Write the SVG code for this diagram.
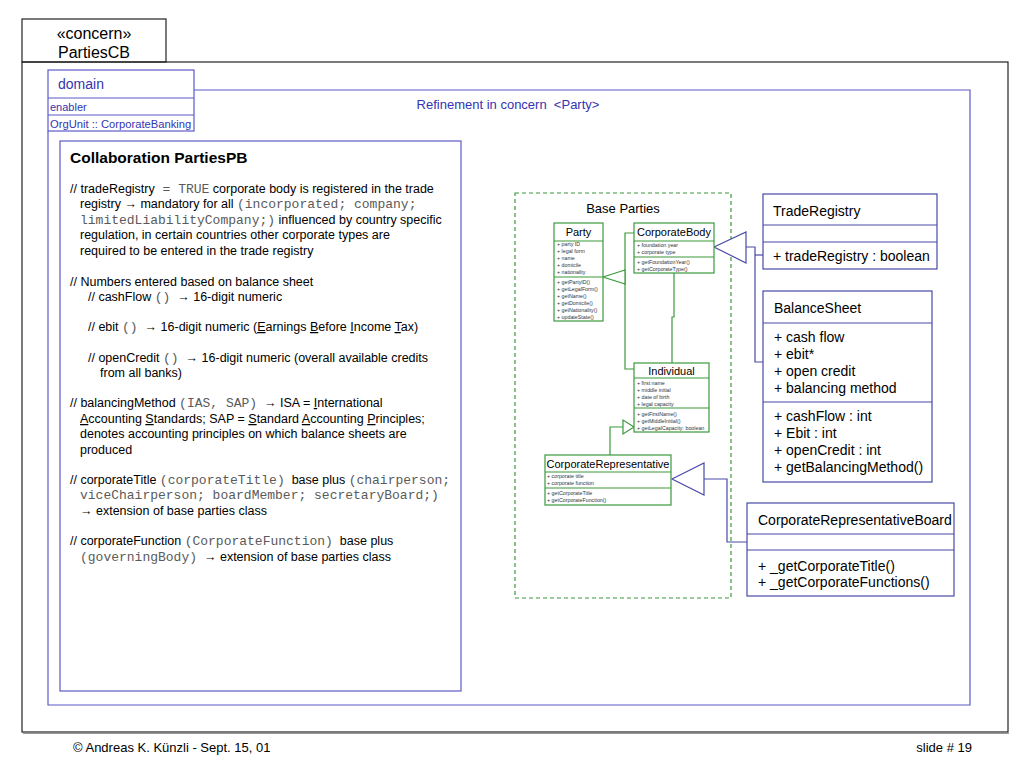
<svg xmlns="http://www.w3.org/2000/svg" width="1024" height="768" viewBox="0 0 1024 768">
<style>
.frame{fill:none;stroke:#222;stroke-width:1.2}
.bframe{fill:none;stroke:#5a5ac8;stroke-width:1.2}
.cls{fill:#fff;stroke:#4a4aa8;stroke-width:1.2}
.bl{fill:none;stroke:#4a4aa8;stroke-width:1.2}
.btri{fill:#fff;stroke:#4a4aa8;stroke-width:1.2}
.g{fill:#fff;stroke:#3a9a3a;stroke-width:1.2}
.gl{fill:none;stroke:#3a9a3a;stroke-width:1.2}
.gdash{fill:none;stroke:#3a9a3a;stroke-width:1.2;stroke-dasharray:4 3}
text{font-family:"Liberation Sans",Arial,sans-serif;fill:#000;white-space:pre}
.body{font-size:12.5px}
.m{font-family:"Liberation Mono","Courier New",monospace;font-size:13px;fill:#5a5a5a}
.u{text-decoration:underline}
.bt{fill:#3434b0}
.c14{font-size:14px}
.c11{font-size:11px}
.tiny{font-size:5.3px;fill:#333}
</style>

<g id="frame">
<rect class="frame" x="22" y="62" width="986" height="670"/>
<line x1="23" y1="733.5" x2="1009" y2="733.5" stroke="#999" stroke-width="1"/>
</g>

<g id="concern-tab">
<rect class="frame" x="22" y="19" width="144" height="43" fill="#fff"/>
<text x="94" y="39" font-size="16" text-anchor="middle">«concern»</text>
<text x="94" y="58" font-size="16" text-anchor="middle">PartiesCB</text>
</g>

<g id="domain-frame">
<polyline class="bframe" points="194,90 970,90 970,705 48,705 48,131"/>
<text class="bt" x="508" y="109" font-size="13" text-anchor="middle">Refinement in concern  &lt;Party&gt;</text>
</g>

<g id="domain">
<rect class="bframe" x="48" y="70" width="146" height="61" fill="#fff"/>
<line class="bframe" x1="48" y1="98" x2="194" y2="98"/>
<line class="bframe" x1="48" y1="115" x2="194" y2="115"/>
<text class="bt" x="58" y="89" font-size="14">domain</text>
<text class="bt" x="50" y="111" font-size="11">enabler</text>
<text class="bt" x="50" y="128" font-size="11.2">OrgUnit :: CorporateBanking</text>
</g>

<g id="collaboration">
<rect class="bframe" x="60" y="141" width="401" height="550" fill="#fff" stroke="#4a4aa8"/>
<text x="70" y="163" font-size="15.5" font-weight="bold">Collaboration PartiesPB</text>
<g class="body">
<text class="body" x="70" y="193">// tradeRegistry<tspan class="m"> = TRUE</tspan> corporate body is registered in the trade</text>
<text class="body" x="80" y="208">registry → mandatory for all <tspan class="m">(incorporated; company;</tspan></text>
<text class="body" x="80" y="224"><tspan class="m">limitedLiabilityCompany;)</tspan> influenced by country specific</text>
<text class="body" x="80" y="239">regulation, in certain countries other corporate types are</text>
<text class="body" x="80" y="255">required to be entered in the trade registry</text>
<text class="body" x="70" y="286">// Numbers entered based on balance sheet</text>
<text class="body" x="88" y="301">// cashFlow <tspan class="m">()</tspan>  → 16-digit numeric</text>
<text class="body" x="88" y="331">// ebit <tspan class="m">()</tspan>  → 16-digit numeric (<tspan class="u">E</tspan>arnings <tspan class="u">B</tspan>efore <tspan class="u">I</tspan>ncome <tspan class="u">T</tspan>ax)</text>
<text class="body" x="88" y="362">// openCredit <tspan class="m">()</tspan>  → 16-digit numeric (overall available credits</text>
<text class="body" x="100" y="377">from all banks)</text>
<text class="body" x="70" y="407">// balancingMethod <tspan class="m">(IAS, SAP)</tspan>  → ISA = <tspan class="u">I</tspan>nternational</text>
<text class="body" x="80" y="423"><tspan class="u">A</tspan>ccounting <tspan class="u">S</tspan>tandards; SAP = <tspan class="u">S</tspan>tandard <tspan class="u">A</tspan>ccounting <tspan class="u">P</tspan>rinciples;</text>
<text class="body" x="80" y="438">denotes accounting principles on which balance sheets are</text>
<text class="body" x="80" y="454">produced</text>
<text class="body" x="70" y="484">// corporateTitle <tspan class="m">(corporateTitle)</tspan>  base plus <tspan class="m">(chairperson;</tspan></text>
<text class="body" x="80" y="499"><tspan class="m">viceChairperson; boardMember; secretaryBoard;)</tspan></text>
<text class="body" x="80" y="515">→ extension of base parties class</text>
<text class="body" x="70" y="545">// corporateFunction <tspan class="m">(CorporateFunction)</tspan>  base plus</text>
<text class="body" x="80" y="561"><tspan class="m">(governingBody)</tspan>  → extension of base parties class</text>
</g>
</g>

<g id="base-parties">
<rect class="gdash" x="515" y="193" width="216" height="405"/>
<text x="623" y="213" font-size="13" text-anchor="middle">Base Parties</text>
</g>

<g id="connectors">
<polyline class="gl" points="634,233 625,233 625,369 634,369"/>
<polygon class="g" points="603,277 625,270 625,284"/>
<polyline class="gl" points="674,273 674,317 672,317 672,363"/>
<polyline class="gl" points="623,427 610,427 610,455"/>
<polygon class="g" points="634,427 623,420 623,434"/>
<polyline class="bl" points="746,247 755,247 755,362 763,362"/>
<line class="bl" x1="755" y1="255" x2="763" y2="255"/>
<polygon class="btri" points="714,247 746,232 746,263"/>
<polyline class="bl" points="704,479 727,479 727,542 747,542"/>
<polygon class="btri" points="672,479 704,463 704,495"/>
</g>

<g id="party">
<rect class="g" x="554" y="223" width="49" height="98"/>
<line class="gl" x1="554" y1="241" x2="603" y2="241"/>
<line class="gl" x1="554" y1="277" x2="603" y2="277"/>
<text class="c11" x="578.5" y="236" text-anchor="middle">Party</text>
<text class="tiny" x="557" y="246">+ party ID</text>
<text class="tiny" x="557" y="253">+ legal form</text>
<text class="tiny" x="557" y="260">+ name</text>
<text class="tiny" x="557" y="267">+ domicile</text>
<text class="tiny" x="557" y="274">+ nationality</text>
<text class="tiny" x="557" y="284">+ getPartyID()</text>
<text class="tiny" x="557" y="291">+ getLegalForm()</text>
<text class="tiny" x="557" y="298">+ getName()</text>
<text class="tiny" x="557" y="305">+ getDomicile()</text>
<text class="tiny" x="557" y="312">+ getNationality()</text>
<text class="tiny" x="557" y="319">+ updateState()</text>
</g>

<g id="corporate-body">
<rect class="g" x="634" y="223" width="80" height="50"/>
<line class="gl" x1="634" y1="241" x2="714" y2="241"/>
<line class="gl" x1="634" y1="257" x2="714" y2="257"/>
<text class="c11" x="674" y="236" text-anchor="middle">CorporateBody</text>
<text class="tiny" x="637" y="247">+ foundation year</text>
<text class="tiny" x="637" y="254">+ corporate type</text>
<text class="tiny" x="637" y="264">+ getFoundationYear()</text>
<text class="tiny" x="637" y="271">+ getCorporateType()</text>
</g>

<g id="individual">
<rect class="g" x="634" y="363" width="75" height="69"/>
<line class="gl" x1="634" y1="378" x2="709" y2="378"/>
<line class="gl" x1="634" y1="408" x2="709" y2="408"/>
<text class="c11" x="671.5" y="375" text-anchor="middle">Individual</text>
<text class="tiny" x="637" y="385">+ first name</text>
<text class="tiny" x="637" y="392">+ middle initial</text>
<text class="tiny" x="637" y="399">+ date of birth</text>
<text class="tiny" x="637" y="406">+ legal capacity</text>
<text class="tiny" x="637" y="416">+ getFirstName()</text>
<text class="tiny" x="637" y="423">+ getMiddleInitial()</text>
<text class="tiny" x="637" y="430">+ getLegalCapacity: boolean</text>
</g>

<g id="corporate-representative">
<rect class="g" x="545" y="455" width="126" height="50"/>
<line class="gl" x1="545" y1="472" x2="671" y2="472"/>
<line class="gl" x1="545" y1="488" x2="671" y2="488"/>
<text class="c11" x="608" y="468" text-anchor="middle">CorporateRepresentative</text>
<text class="tiny" x="547" y="478">+ corporate title</text>
<text class="tiny" x="547" y="485">+ corporate function</text>
<text class="tiny" x="547" y="495">+ getCorporateTitle</text>
<text class="tiny" x="547" y="502">+ getCorporateFunction()</text>
</g>

<g id="trade-registry">
<rect class="cls" x="763" y="194" width="174" height="75"/>
<line class="bl" x1="763" y1="225" x2="937" y2="225"/>
<line class="bl" x1="763" y1="242" x2="937" y2="242"/>
<text class="c14" x="773" y="216">TradeRegistry</text>
<text class="c14" x="773" y="261">+ tradeRegistry : boolean</text>
</g>

<g id="balance-sheet">
<rect class="cls" x="763" y="291" width="169" height="191"/>
<line class="bl" x1="763" y1="323" x2="932" y2="323"/>
<line class="bl" x1="763" y1="402" x2="932" y2="402"/>
<text class="c14" x="774" y="313">BalanceSheet</text>
<text class="c14" x="774" y="342">+ cash flow</text>
<text class="c14" x="774" y="359">+ ebit*</text>
<text class="c14" x="774" y="376">+ open credit</text>
<text class="c14" x="774" y="393">+ balancing method</text>
<text class="c14" x="774" y="421">+ cashFlow : int</text>
<text class="c14" x="774" y="438">+ Ebit : int</text>
<text class="c14" x="774" y="455">+ openCredit : int</text>
<text class="c14" x="774" y="472">+ getBalancingMethod()</text>
</g>

<g id="corporate-representative-board">
<rect class="cls" x="747" y="503" width="207" height="93"/>
<line class="bl" x1="747" y1="534" x2="954" y2="534"/>
<line class="bl" x1="747" y1="550" x2="954" y2="550"/>
<text class="c14" x="758" y="525">CorporateRepresentativeBoard</text>
<text class="c14" x="758" y="571">+ _getCorporateTitle()</text>
<text class="c14" x="758" y="587">+ _getCorporateFunctions()</text>
</g>

<g id="footer">
<text x="73" y="752" font-size="13">© Andreas K. Künzli - Sept. 15, 01</text>
<text x="972" y="752" font-size="13" text-anchor="end">slide # 19</text>
</g>
</svg>
